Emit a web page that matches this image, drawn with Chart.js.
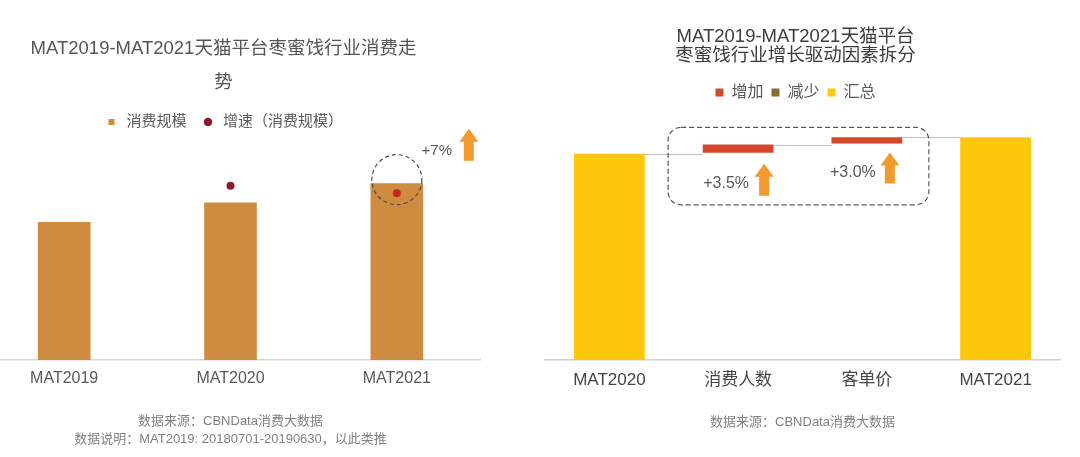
<!DOCTYPE html>
<html>
<head>
<meta charset="utf-8">
<script src="https://cdn.jsdelivr.net/npm/chart.js@4.4.1/dist/chart.umd.min.js"></script>
<style>
  html, body { margin: 0; padding: 0; background: #fff; }
  #page { position: relative; width: 1080px; height: 457px; overflow: hidden; }
  .box { position: absolute; top: 0; height: 457px; }
  #leftBox { left: -33px; width: 573px; }
  #rightBox { left: 526px; width: 554px; }
</style>
</head>
<body>
<div id="page">
  <div class="box" id="leftBox"><canvas id="trendChart"></canvas></div>
  <div class="box" id="rightBox"><canvas id="driverChart"></canvas></div>
</div>
<script>
// left chart: 消费规模 (index, MAT2019 = 100) and 增速
const trendLabels = ['MAT2019', 'MAT2020', 'MAT2021'];
const scaleValues = [100, 114, 128];
const growthValues = [null, 14, 13.4];
const trendNote = '+7%';

// right chart: waterfall, MAT2020 = 100
const driverLabels = ['MAT2020', '消费人数', '客单价', 'MAT2021'];
const increaseValues = [null, [100.5, 104.5], [105, 108], null];
const decreaseValues = [null, null, null, null];
const totalValues = [100, null, null, 108];
const driverNotes = ['+3.5%', '+3.0%'];

const FONT = '"Liberation Sans", "Noto Sans CJK SC", sans-serif';
const ARROW = '#f29a2c';
const NOTE = '#595959';
Chart.defaults.font.family = FONT;
Chart.defaults.color = '#595959';

// empty left axis, only there to pull the title a bit to the left of the plot centre
const spacerAxis = {
    display: true,
    position: 'left',
    grid: {display: false, drawTicks: false},
    border: {display: false},
    ticks: {display: false},
    afterFit: axis => { axis.width = 14; }
};

function drawArrow(ctx, x, tipY, bottomY) {
    ctx.beginPath();
    ctx.moveTo(x, tipY);
    ctx.lineTo(x + 9.5, tipY + 13);
    ctx.lineTo(x + 5, tipY + 13);
    ctx.lineTo(x + 5, bottomY);
    ctx.lineTo(x - 5, bottomY);
    ctx.lineTo(x - 5, tipY + 13);
    ctx.lineTo(x - 9.5, tipY + 13);
    ctx.closePath();
    ctx.fillStyle = ARROW;
    ctx.fill();
}

function drawNote(ctx, text, x, y) {
    ctx.fillStyle = NOTE;
    ctx.textAlign = 'center';
    ctx.textBaseline = 'middle';
    ctx.fillText(text, x, y);
}

const trendMarks = {
    id: 'trendMarks',
    afterDatasetsDraw(chart) {
        const {ctx, scales: {x, y}} = chart;
        const cx = x.getPixelForValue(2);
        const top = y.getPixelForValue(scaleValues[2]);
        ctx.save();
        ctx.setLineDash([4, 3]);
        ctx.strokeStyle = '#4a4a4a';
        ctx.lineWidth = 1.2;
        ctx.beginPath();
        ctx.arc(cx, top - 4, 25, 0, Math.PI * 2);
        ctx.stroke();
        ctx.setLineDash([]);
        ctx.font = '15px ' + FONT;
        drawNote(ctx, trendNote, cx + 40, top - 33);
        drawArrow(ctx, cx + 72, top - 55, top - 23);
        ctx.restore();
    }
};

new Chart(document.getElementById('trendChart'), {
    type: 'bar',
    data: {
        labels: trendLabels,
        datasets: [{
            label: '消费规模',
            data: scaleValues,
            backgroundColor: '#cf8b3f',
            barThickness: 52,
            order: 2
        }, {
            type: 'line',
            label: '增速（消费规模）',
            data: growthValues,
            yAxisID: 'y1',
            showLine: false,
            pointRadius: 4,
            pointBorderWidth: 0,
            backgroundColor: '#8b1c2b',
            pointBackgroundColor: ['#8b1c2b', '#8b1c2b', '#c4291f'],
            order: 1
        }]
    },
    options: {
        responsive: true,
        maintainAspectRatio: false,
        animation: false,
        layout: {padding: {left: 0, right: 60}},
        scales: {
            x: {
                grid: {display: false, drawTicks: false},
                border: {color: '#d6d6d6', width: 1.5},
                ticks: {padding: 9, color: '#595959', font: {size: 16}}
            },
            y: {...spacerAxis, min: 0, max: 160},
            y1: {display: false, min: 0, max: 17.7}
        },
        plugins: {
            title: {
                display: true,
                text: ['MAT2019-MAT2021天猫平台枣蜜饯行业消费走', '势'],
                color: '#555',
                font: {size: 18.5, weight: 'normal', lineHeight: 1.84},
                padding: {top: 32, bottom: 0.5}
            },
            legend: {
                labels: {
                    sort: (a, b) => a.datasetIndex - b.datasetIndex,
                    usePointStyle: true,
                    boxHeight: 6,
                    padding: 14,
                    color: '#595959',
                    font: {size: 15},
                    generateLabels: chart => Chart.defaults.plugins.legend.labels.generateLabels(chart)
                        .map(item => ({...item, pointStyle: item.datasetIndex === 0 ? 'rect' : 'circle', lineWidth: 0}))
                }
            },
            subtitle: {
                display: true,
                position: 'bottom',
                fullSize: false,
                text: ['数据来源：CBNData消费大数据', '数据说明：MAT2019: 20180701-20190630，以此类推'],
                color: '#808080',
                font: {size: 13, lineHeight: 1.385},
                padding: {top: 14.8, bottom: 9}
            },
            tooltip: {enabled: false}
        }
    },
    plugins: [trendMarks]
});

// connectors + dashed box + notes for the waterfall
const driverMarks = {
    id: 'driverMarks',
    afterDatasetsDraw(chart) {
        const {ctx, scales: {x, y}} = chart;
        const barAt = i => {
            for (let d = 0; d < chart.data.datasets.length; d++) {
                const v = chart.data.datasets[d].data[i];
                if (v !== null && v !== undefined) {
                    const el = chart.getDatasetMeta(d).data[i];
                    return {el, start: Array.isArray(v) ? v[0] : 0, end: Array.isArray(v) ? v[1] : v};
                }
            }
        };
        const bars = driverLabels.map((_, i) => barAt(i));
        ctx.save();
        ctx.strokeStyle = '#bdbdbd';
        ctx.lineWidth = 1;
        for (let i = 0; i < bars.length - 1; i++) {
            const a = bars[i], b = bars[i + 1];
            const ly = Math.round(y.getPixelForValue(a.end)) + 0.5;
            ctx.beginPath();
            ctx.moveTo(a.el.x + a.el.width / 2, ly);
            ctx.lineTo(b.el.x - b.el.width / 2, ly);
            ctx.stroke();
        }

        // dashed frame round the two drivers
        const boxTop = y.getPixelForValue(bars[2].end) - 10;
        const boxLeft = x.getPixelForValue(1) - 70;
        const boxRight = x.getPixelForValue(2) + 62;
        const boxBottom = y.getPixelForValue(bars[0].end) + 51;
        ctx.setLineDash([5, 3]);
        ctx.strokeStyle = '#555';
        ctx.lineWidth = 1.2;
        ctx.beginPath();
        ctx.roundRect(boxLeft, boxTop, boxRight - boxLeft, boxBottom - boxTop, 13);
        ctx.stroke();
        ctx.setLineDash([]);

        ctx.font = '16px ' + FONT;
        const b1 = y.getPixelForValue(bars[1].start);
        drawNote(ctx, driverNotes[0], x.getPixelForValue(1) - 12, b1 + 31);
        drawArrow(ctx, x.getPixelForValue(1) + 26, b1 + 11, b1 + 43);
        const b2 = y.getPixelForValue(bars[2].start);
        drawNote(ctx, driverNotes[1], x.getPixelForValue(2) - 14, b2 + 29);
        drawArrow(ctx, x.getPixelForValue(2) + 23, b2 + 9, b2 + 40);
        ctx.restore();
    }
};

new Chart(document.getElementById('driverChart'), {
    type: 'bar',
    data: {
        labels: driverLabels,
        datasets: [{
            label: '增加',
            data: increaseValues,
            backgroundColor: '#d4472a',
            barPercentage: 0.55,
            categoryPercentage: 1
        }, {
            label: '减少',
            data: decreaseValues,
            backgroundColor: '#8d6b2e',
            barPercentage: 0.55,
            categoryPercentage: 1
        }, {
            label: '汇总',
            data: totalValues,
            backgroundColor: '#fdc80c',
            barPercentage: 0.55,
            categoryPercentage: 1
        }]
    },
    options: {
        responsive: true,
        maintainAspectRatio: false,
        animation: false,
        layout: {padding: {left: 5, right: 20}},
        scales: {
            x: {
                stacked: true,
                grid: {display: false, drawTicks: false},
                border: {color: '#cfcfcf', width: 1.5},
                ticks: {padding: 10, color: '#454545', font: {size: 17}}
            },
            y: {...spacerAxis, min: 0, max: 121}
        },
        plugins: {
            title: {
                display: true,
                text: ['MAT2019-MAT2021天猫平台', '枣蜜饯行业增长驱动因素拆分'],
                color: '#3c3c3c',
                font: {size: 18.5, weight: 'normal', lineHeight: 1.0},
                padding: {top: 28, bottom: 11.5}
            },
            legend: {
                labels: {
                    boxWidth: 8,
                    boxHeight: 8,
                    padding: 8,
                    color: '#595959',
                    font: {size: 16}
                }
            },
            subtitle: {
                display: true,
                position: 'bottom',
                fullSize: false,
                text: '数据来源：CBNData消费大数据',
                color: '#808080',
                font: {size: 13, lineHeight: 1.385},
                padding: {top: 13, bottom: 25.6}
            },
            tooltip: {enabled: false}
        }
    },
    plugins: [driverMarks]
});
</script>
</body>
</html>
